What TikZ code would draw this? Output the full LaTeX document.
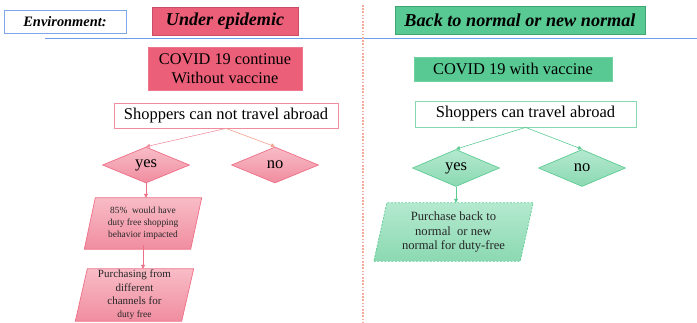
\documentclass[tikz,border=0pt]{standalone}
\usepackage{fontspec}
\setmainfont{Liberation Serif}
\usetikzlibrary{shapes.geometric,backgrounds,arrows.meta}
\definecolor{redfill}{HTML}{EC5F79}
\definecolor{redline}{HTML}{C94D66}
\definecolor{greenfill}{HTML}{58C992}
\definecolor{greenline}{HTML}{3FA673}
\definecolor{pinktop}{HTML}{F8BCC6}
\definecolor{pinkbot}{HTML}{F08DA0}
\definecolor{pinkline}{HTML}{EE6F87}
\definecolor{mintop}{HTML}{B4E9CF}
\definecolor{minbot}{HTML}{8BD9B2}
\definecolor{minline}{HTML}{5DCB94}
\definecolor{envblue}{HTML}{7DA7E8}
\definecolor{sepblue}{HTML}{6D9EEB}
\definecolor{sepsalmon}{HTML}{F4AA9C}
\definecolor{arrsalmon}{HTML}{F2A08A}
\tikzset{
  fs/.style 2 args={font=\fontsize{#1}{#2}\selectfont},
  hdr/.style={draw=#1, line width=0.8pt, inner sep=0pt, align=center},
  redbox/.style={fill=redfill, draw=redfill!85!white, line width=0.6pt, inner sep=0pt, align=center},
  greenbox/.style={fill=greenfill, draw=greenfill!85!white, line width=0.6pt, inner sep=0pt, align=center},
  qbox/.style={draw=#1, fill=white, line width=0.8pt, inner sep=0pt, align=center},
  pinkdia/.style={diamond, draw=pinkline, line width=0.7pt, top color=pinktop, bottom color=pinkbot, minimum width=87pt, minimum height=36pt, inner sep=0pt, fs={16.5}{18}},
  mindia/.style={diamond, draw=minline, line width=0.7pt, top color=mintop, bottom color=minbot, minimum width=87pt, minimum height=37pt, inner sep=0pt, fs={16.5}{18}},
  ptext/.style={inner sep=0pt, align=center, text=black!85},
  pinkpar/.style={draw=pinkline, line width=0.7pt, top color=pinktop, bottom color=pinkbot},
  minpar/.style={draw=minline, line width=0.7pt, top color=mintop, bottom color=minbot, dash pattern=on 2pt off 1.5pt},
  pinkarr/.style={draw=#1, line width=0.6pt, -{Triangle[length=4pt,width=4pt]}},
  minarr/.style={draw=minline, line width=0.6pt, -{Triangle[length=4pt,width=4pt]}},
}
\begin{document}
\begin{tikzpicture}[x=1pt,y=-1pt]
\useasboundingbox (0,0) rectangle (697,322);

% header
\node[hdr=envblue, minimum width=122pt, minimum height=23pt, fs={14.4}{16}] (env) at (65,21.5) {\bfseries\itshape Environment:};
\node[fill=redfill, hdr=redline, minimum width=146pt, minimum height=28pt, fs={18.1}{20}] (under) at (225,21) {\bfseries\itshape Under epidemic};
\node[fill=greenfill, hdr=greenline, minimum width=250pt, minimum height=28pt, fs={18.2}{20}] (back) at (520,20) {\bfseries\itshape Back to normal or new normal};

\coordinate (sepL) at (45,38);
\coordinate (sepR) at (697,38);
\draw[sepblue, line width=0.8pt] (sepL) -- (sepR);
\coordinate (vtop) at (363,5);
\coordinate (vbot) at (363,322);
\draw[sepsalmon, line width=1.4pt, dash pattern=on 1.6pt off 1.6pt] (vtop) -- (vbot);

% left column
\node[redbox, minimum width=154pt, minimum height=43pt, fs={16.3}{19.5}] (cov1) at (225,68.5) {COVID 19 continue\\Without vaccine};
\node[qbox=pinkline!80!white, minimum width=224pt, minimum height=25pt, fs={16.5}{18}] (shop1) at (226,115.5) {Shoppers can not travel abroad};
\node[pinkdia] (yes1) at (146,165) {yes};
\node[pinkdia] (no1) at (275,165) {no};

\node[ptext, minimum width=106pt, minimum height=51pt, fs={9.4}{12}] (p1) at (143,223.5) {85\%\ \ would have\\duty free shopping\\behavior impacted};
\node[ptext, minimum width=106pt, minimum height=52pt, fs={11}{13.3}] (p2) at (134.5,295) {Purchasing from\\different\\channels for\\{\fontsize{9.5}{11}\selectfont duty free}};
\begin{pgfonlayer}{background}
\path[pinkpar] ([xshift=-5.5pt]p1.south west) -- ([xshift=-5.5pt]p1.south east) -- ([xshift=5.5pt]p1.north east) -- ([xshift=5.5pt]p1.north west) -- cycle;
\path[pinkpar] ([xshift=-6pt]p2.south west) -- ([xshift=-6pt]p2.south east) -- ([xshift=6pt]p2.north east) -- ([xshift=6pt]p2.north west) -- cycle;
\end{pgfonlayer}

\draw[pinkarr=pinkline!75!white] (shop1.south) -- (yes1.north);
\draw[pinkarr=arrsalmon] (shop1.south) -- (no1.north);
\draw[pinkarr=pinkline] (yes1.south) -- (yes1.south |- p1.north);
\coordinate (p1b) at ([yshift=4pt]p1.south);
\draw[pinkarr=pinkline] (p1b) -- (p1b |- p2.north);

% right column
\node[greenbox, minimum width=198pt, minimum height=24pt, fs={16.4}{18}] (cov2) at (513,69) {COVID 19 with vaccine};
\node[qbox=minline!75!white, minimum width=221pt, minimum height=26pt, fs={16.5}{18}] (shop2) at (525.5,114) {Shoppers can travel abroad};
\node[mindia] (yes2) at (456,168) {yes};
\node[mindia] (no2) at (582,168) {no};
\node[ptext, minimum width=146pt, minimum height=58pt, fs={12.6}{14.5}] (p3) at (453.5,232) {Purchase back to\\normal\ \ or new\\normal for duty-free};
\begin{pgfonlayer}{background}
\path[minpar] ([xshift=-6.5pt]p3.south west) -- ([xshift=-6.5pt]p3.south east) -- ([xshift=6.5pt]p3.north east) -- ([xshift=6.5pt]p3.north west) -- cycle;
\end{pgfonlayer}
\draw[minarr] (shop2.south) -- (yes2.north);
\draw[minarr] (shop2.south) -- (no2.north);
\draw[minarr] (yes2.south) -- (yes2.south |- p3.north);
\end{tikzpicture}
\end{document}
